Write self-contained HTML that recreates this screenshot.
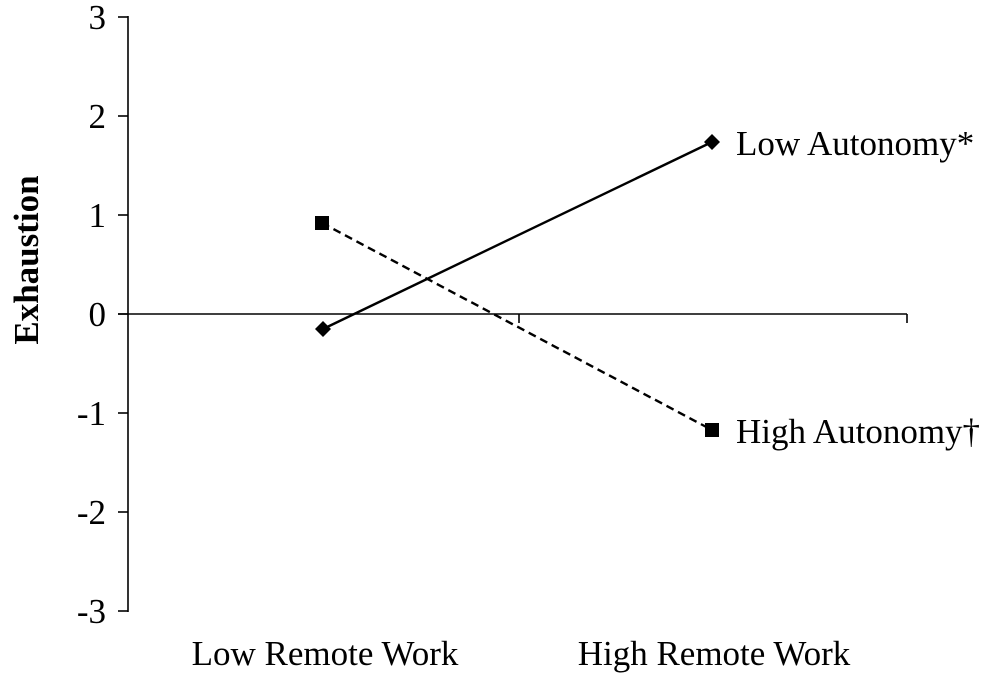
<!DOCTYPE html>
<html><head><meta charset="utf-8"><style>
html,body{margin:0;padding:0;background:#fff;}
svg{display:block;}
text{font-family:"Liberation Serif",serif;fill:#000;}
</style></head><body>
<svg width="987" height="675" viewBox="0 0 987 675" xmlns="http://www.w3.org/2000/svg">
<g stroke="#000" stroke-width="1.6" fill="none">
<line x1="128" y1="16" x2="128" y2="612"/>
<line x1="118" y1="17" x2="128" y2="17"/>
<line x1="118" y1="116" x2="128" y2="116"/>
<line x1="118" y1="215" x2="128" y2="215"/>
<line x1="118" y1="314" x2="128" y2="314"/>
<line x1="118" y1="413" x2="128" y2="413"/>
<line x1="118" y1="512" x2="128" y2="512"/>
<line x1="118" y1="611" x2="128" y2="611"/>
<line x1="118" y1="314" x2="907" y2="314"/>
<line x1="519" y1="314" x2="519" y2="323"/>
<line x1="907" y1="314" x2="907" y2="323"/>
</g>
<line x1="323" y1="329" x2="712" y2="142" stroke="#000" stroke-width="2.4"/>
<line x1="322" y1="223" x2="712" y2="430" stroke="#000" stroke-width="2.4" stroke-dasharray="8,5"/>
<polygon points="323,321 331,329 323,337 315,329" fill="#000"/>
<polygon points="712,134 720,142 712,150 704,142" fill="#000"/>
<rect x="315" y="216" width="14" height="14" fill="#000"/>
<rect x="705" y="423" width="14" height="14" fill="#000"/>
<g font-size="35" text-anchor="end">
<text x="106" y="29">3</text>
<text x="106" y="128">2</text>
<text x="106" y="227">1</text>
<text x="106" y="326">0</text>
<text x="106" y="425">-1</text>
<text x="106" y="524">-2</text>
<text x="106" y="623">-3</text>
</g>
<text x="38" y="260" font-size="35" font-weight="bold" text-anchor="middle" transform="rotate(-90 38 260)">Exhaustion</text>
<text x="736" y="155" font-size="35">Low Autonomy*</text>
<text x="736" y="443" font-size="35">High Autonomy†</text>
<text x="325" y="665" font-size="35" text-anchor="middle">Low Remote Work</text>
<text x="714" y="665" font-size="35" text-anchor="middle">High Remote Work</text>
</svg>
</body></html>
